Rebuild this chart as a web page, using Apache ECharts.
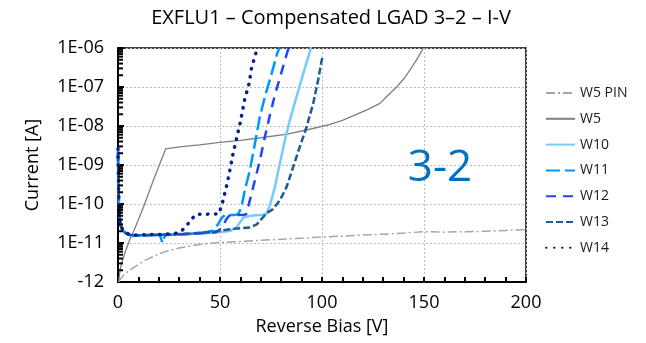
<!DOCTYPE html>
<html>
<head>
<meta charset="utf-8">
<script src="https://cdn.jsdelivr.net/npm/echarts@6/dist/echarts.min.js"></script>
<style>
  html, body { margin: 0; padding: 0; background: #fff; }
  #chart { width: 646px; height: 343px; }
</style>
</head>
<body>
<div id="chart"></div>
<script>
// I-V curves, [reverse bias (V), current (A)]
const w5pin = [[0.5,1.0e-12],[1,1.15e-12],[2,1.35e-12],[3,1.55e-12],[5,1.9e-12],[8,2.4e-12],[12,3.3e-12],[16,4.2e-12],[20,5.2e-12],[24,6.2e-12],[30,7.4e-12],[40,9.2e-12],[50,1.03e-11],[60,1.1e-11],[70,1.17e-11],[80,1.25e-11],[90,1.33e-11],[100,1.42e-11],[110,1.5e-11],[120,1.6e-11],[130,1.68e-11],[140,1.8e-11],[150,1.95e-11],[160,1.9e-11],[170,1.95e-11],[180,2.0e-11],[190,2.1e-11],[200,2.2e-11]];
const w5 = [[0.3,1e-12],[1,2.0e-12],[1.6,2.8e-12],[3.4,5.6e-12],[5.9,1.26e-11],[8,2.2e-11],[12.4,8.1e-11],[17.3,4e-10],[23.4,2.6e-9],[30,2.9e-9],[40,3.3e-9],[50,3.8e-9],[60,4.3e-9],[70,5e-9],[83,6.2e-9],[95,8.5e-9],[104,1.1e-8],[110,1.4e-8],[116,1.9e-8],[122,2.6e-8],[128.4,3.8e-8],[132,5.9e-8],[136.6,1e-7],[140,1.6e-7],[143.1,2.7e-7],[146.5,5.1e-7],[149.7,1e-6]];
const w10 = [[0,2.8e-9],[0.1,1e-9],[0.3,2.5e-10],[0.5,1e-10],[0.8,4e-11],[1.5,2.7e-11],[2.5,2.1e-11],[4,1.75e-11],[6,1.6e-11],[8,1.55e-11],[15,1.55e-11],[25,1.6e-11],[35,1.7e-11],[45,1.8e-11],[52,1.95e-11],[55,2.05e-11],[58,2.5e-11],[60,3.5e-11],[61.5,4.5e-11],[66,5.1e-11],[71,5.3e-11],[72.8,5.6e-11],[74.4,9.1e-11],[76.9,2.7e-10],[79.3,1.07e-9],[81.8,4.3e-9],[84.2,1.4e-8],[87.5,5.6e-8],[90.8,2.2e-7],[94,8e-7],[94.7,1.05e-6]];
const w11 = [[0,2.5e-9],[0.1,9e-10],[0.3,2.3e-10],[0.5,1e-10],[0.8,4e-11],[1.5,2.6e-11],[2.5,2.05e-11],[4,1.75e-11],[6,1.6e-11],[8,1.55e-11],[15,1.6e-11],[20.5,1.65e-11],[21.3,1.2e-11],[21.8,1.02e-11],[22.4,1.3e-11],[23.5,1.62e-11],[30,1.65e-11],[38,1.75e-11],[44,1.95e-11],[46.6,2.1e-11],[49,3.0e-11],[50.7,4.3e-11],[52.3,5.2e-11],[57,5.2e-11],[59,5.6e-11],[60.5,8.1e-11],[62.1,2.2e-10],[64.6,7.2e-10],[67.1,3.5e-9],[69.5,1.7e-8],[72,5.6e-8],[75.3,2.2e-7],[78,7.2e-7],[79.3,1.05e-6]];
const w12 = [[0,2.2e-9],[0.1,8e-10],[0.3,2.2e-10],[0.5,9e-11],[0.8,4e-11],[1.5,2.6e-11],[2.5,2.05e-11],[4,1.75e-11],[6,1.6e-11],[8,1.55e-11],[15,1.6e-11],[25,1.65e-11],[35,1.7e-11],[42,1.8e-11],[48,1.9e-11],[51,2.4e-11],[53,4e-11],[54.5,5e-11],[58,5.2e-11],[62,5.3e-11],[63,5.6e-11],[64.6,1.23e-10],[67.1,4e-10],[69.5,1.3e-9],[72,5.2e-9],[74.4,1.86e-8],[76.9,6.2e-8],[80.2,2.45e-7],[82.9,7.6e-7],[83.8,1.05e-6]];
const w13 = [[0,2.0e-9],[0.1,7e-10],[0.3,2e-10],[0.5,9e-11],[0.8,4e-11],[1.5,2.6e-11],[2.5,2.05e-11],[4,1.75e-11],[6,1.6e-11],[8,1.55e-11],[15,1.6e-11],[25,1.65e-11],[35,1.75e-11],[45,1.9e-11],[56.4,2.3e-11],[64.6,2.5e-11],[68,3.0e-11],[70.5,4.2e-11],[72.8,5.8e-11],[76,7.4e-11],[79.3,1.23e-10],[82.6,2.7e-10],[85.8,8.7e-10],[89.1,2.9e-9],[92.4,9.3e-9],[95.7,3.8e-8],[98.1,1.5e-7],[99.8,4.7e-7],[100.2,5.5e-7]];
const w14 = [[0,2.6e-9],[0.1,9e-10],[0.3,2.4e-10],[0.5,1e-10],[0.8,4e-11],[1.5,2.7e-11],[2.5,2.1e-11],[4,1.8e-11],[6,1.65e-11],[8,1.6e-11],[15,1.65e-11],[20,1.65e-11],[28,1.75e-11],[31,2.0e-11],[34,2.95e-11],[36,4.1e-11],[38.6,5.5e-11],[44,5.5e-11],[49.5,5.6e-11],[50.2,6.2e-11],[51.5,1.23e-10],[53.5,3.3e-10],[55.1,8.7e-10],[56.4,1.95e-9],[58.1,4.7e-9],[60,1.26e-8],[62.2,5.1e-8],[64.3,1.23e-7],[65.4,3.0e-7],[67.5,7.1e-7],[68.5,1.1e-6]];

const seriesNames = ['W5 PIN', 'W5', 'W10', 'W11', 'W12', 'W13', 'W14'];
const xTicks = [0, 50, 100, 150, 200];
const yTickLabels = ['-12', '1E-11', '1E-10', '1E-09', '1E-08', '1E-07', '1E-06'];
const yMinExp = -12, yMaxExp = -6;

const FONT = 'Open Sans';

const chart = echarts.init(document.getElementById('chart'), null, { renderer: 'canvas' });

function lineSeries(name, data, color, width, type, cap) {
  return {
    name, type: 'line', data, symbol: 'none', smooth: false, z: 3,
    lineStyle: { color, width, type, cap: cap || 'butt' },
    itemStyle: { color },
    emphasis: { disabled: true }
  };
}

chart.setOption({
  animation: false,
  backgroundColor: '#fff',
  title: {
    text: 'EXFLU1 – Compensated LGAD 3–2 – I-V',
    left: 326, top: 3, textAlign: 'center',
    textStyle: { fontFamily: FONT, fontSize: 20, fontWeight: 'normal', color: '#000' }
  },
  grid: { left: 118, right: 120, top: 48, bottom: 61, show: true, borderColor: '#000', borderWidth: 1.5, backgroundColor: 'transparent' },
  legend: {
    orient: 'vertical', left: 540, top: 81,
    itemWidth: 29, itemHeight: 14, itemGap: 11.8,
    data: seriesNames,
    itemStyle: { opacity: 0 },
    textStyle: { fontFamily: FONT, fontSize: 14, color: '#1a1a1a' }
  },
  xAxis: {
    type: 'value', min: xTicks[0], max: xTicks[xTicks.length - 1], interval: 50,
    name: 'Reverse Bias [V]', nameLocation: 'middle', nameGap: 36,
    nameTextStyle: { fontFamily: FONT, fontSize: 18, color: '#000' },
    axisLine: { lineStyle: { color: '#000', width: 2 } },
    axisTick: { show: true, inside: true, length: 5, lineStyle: { color: '#000', width: 2 } },
    minorTick: { show: true, splitNumber: 5, length: 5, lineStyle: { color: '#000', width: 2 } },
    axisLabel: { fontFamily: FONT, fontSize: 18, color: '#000', margin: 12 },
    splitLine: { show: true, lineStyle: { color: '#bdbdbd', width: 1, type: [2, 2] } }
  },
  yAxis: {
    type: 'log', logBase: 10, min: Math.pow(10, yMinExp), max: Math.pow(10, yMaxExp),
    name: 'Current [A]', nameLocation: 'middle', nameGap: 76,
    nameTextStyle: { fontFamily: FONT, fontSize: 18, color: '#000' },
    axisLine: { show: true, lineStyle: { color: '#000', width: 2 } },
    axisTick: { show: true, inside: true, length: 6, lineStyle: { color: '#000', width: 2 } },
    axisLabel: {
      fontFamily: FONT, fontSize: 18, color: '#000', margin: 14,
      formatter: v => yTickLabels[Math.round(Math.log10(v)) - yMinExp] || ''
    },
    splitLine: { show: true, lineStyle: { color: '#bdbdbd', width: 1, type: [2, 2] } }
  },
  series: [
    lineSeries('W5 PIN', w5pin, '#a6a6a6', 1.5, [9, 3, 2, 3]),
    lineSeries('W5', w5, '#7f7f7f', 1.3, 'solid'),
    lineSeries('W10', w10, '#75ccf8', 2.5, 'solid'),
    lineSeries('W11', w11, '#0096ff', 2.5, [14, 5]),
    lineSeries('W12', w12, '#1e46ff', 2.5, [10, 7]),
    lineSeries('W13', w13, '#1d5a96', 2.5, [7, 3]),
    lineSeries('W14', w14, '#0a1f8f', 3.5, [0.5, 7.5], 'round')
  ]
});

// Logarithmic minor ticks (2..9 in each decade) on the inner side of the y axis,
// positioned through the axis' own scale.
const x0 = chart.convertToPixel({ xAxisIndex: 0 }, 0);
const tickGraphics = [];
for (let e = yMinExp; e < yMaxExp; e++) {
  for (let k = 2; k <= 9; k++) {
    const y = chart.convertToPixel({ yAxisIndex: 0 }, k * Math.pow(10, e));
    tickGraphics.push({
      type: 'line', silent: true, z: 10,
      shape: { x1: x0, y1: y, x2: x0 + 5, y2: y },
      style: { stroke: '#000', lineWidth: 2 }
    });
  }
}
tickGraphics.push({
  type: 'text', z: 10,
  style: { x: 440, y: 168, text: '3-2', fill: '#0070C0', font: '44px "Open Sans"', textAlign: 'center', textVerticalAlign: 'middle' }
});
chart.setOption({ graphic: tickGraphics });
</script>
</body>
</html>
